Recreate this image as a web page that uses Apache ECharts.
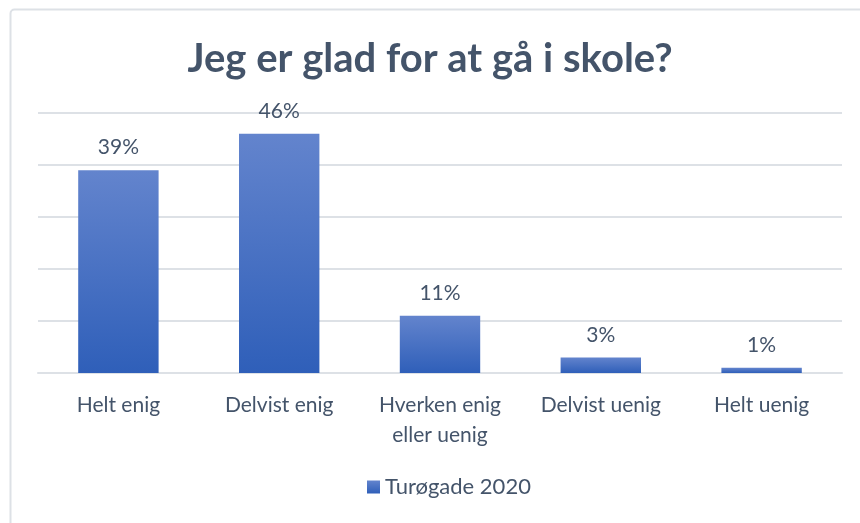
<!DOCTYPE html>
<html lang="no" style="height: 100%">
<head>
    <meta charset="utf-8">
</head>
<body style="height: 100%; margin: 0; background: #fff">
<div id="container" style="width: 860px; height: 523px"></div>

<script type="text/javascript" src="https://cdn.jsdelivr.net/npm/echarts@6/dist/echarts.min.js"></script>
<script type="text/javascript">
    // data
    var categories = ['Helt enig', 'Delvist enig', 'Hverken enig\neller uenig', 'Delvist uenig', 'Helt uenig'];
    var seriesName = 'Turøgade 2020';
    var values = [39, 46, 11, 3, 1];

    var textColor = '#44546a';
    var lineColor = '#dde1e6';
    var fontFamily = 'Lato, "Noto Sans", sans-serif';

    var dom = document.getElementById('container');
    var myChart = echarts.init(dom, null, { renderer: 'canvas' });

    var option = {
        backgroundColor: '#fff',
        textStyle: { fontFamily: fontFamily },
        animation: false,
        title: {
            text: 'Jeg er glad for at gå i skole?',
            left: 'center',
            top: 34,
            textStyle: {
                color: textColor,
                fontSize: 40,
                fontWeight: 'bold',
                fontFamily: fontFamily
            }
        },
        // thin frame along top and left like the source
        graphic: [{
            type: 'rect',
            left: 8,
            top: 7,
            shape: { width: 900, height: 560, r: 4 },
            style: { fill: 'none', stroke: lineColor, lineWidth: 2 },
            silent: true
        }],
        legend: {
            bottom: 20,
            left: 362,
            icon: 'rect',
            itemWidth: 13,
            itemHeight: 13,
            itemGap: 6,
            textStyle: { color: textColor, fontSize: 22, fontFamily: fontFamily },
            data: [seriesName]
        },
        grid: {
            left: 38,
            right: 18,
            top: 113,
            bottom: 150,
            containLabel: false
        },
        xAxis: {
            type: 'category',
            data: categories,
            axisTick: { show: false },
            axisLine: { lineStyle: { color: lineColor, width: 2 } },
            axisLabel: {
                color: textColor,
                fontSize: 21,
                lineHeight: 30,
                margin: 17,
                interval: 0,
                fontFamily: fontFamily
            }
        },
        yAxis: {
            type: 'value',
            min: 0,
            max: 50,
            interval: 10,
            axisLabel: { show: false },
            axisLine: { show: false },
            axisTick: { show: false },
            splitLine: { lineStyle: { color: lineColor, width: 2 } }
        },
        series: [{
            name: seriesName,
            type: 'bar',
            data: values,
            barWidth: '50%',
            itemStyle: {
                color: new echarts.graphic.LinearGradient(0, 0, 0, 1, [
                    { offset: 0, color: '#6384cd' },
                    { offset: 1, color: '#2f5fb9' }
                ])
            },
            label: {
                show: true,
                position: 'top',
                distance: 12,
                formatter: '{c}%',
                color: textColor,
                fontSize: 21,
                fontFamily: fontFamily
            }
        }]
    };

    myChart.setOption(option);
    window.addEventListener('resize', myChart.resize);
</script>
</body>
</html>
